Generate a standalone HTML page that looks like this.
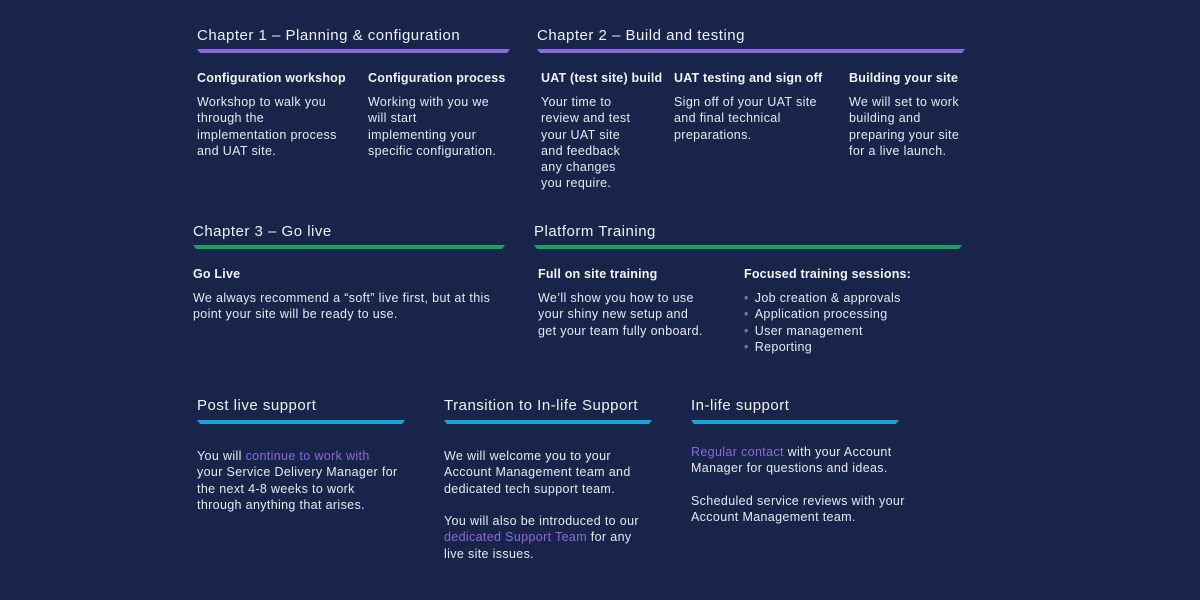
<!DOCTYPE html>
<html><head><meta charset="utf-8"><style>
body{margin:0;width:1200px;height:600px;background:#18244a;overflow:hidden;font-family:"Liberation Sans",sans-serif;color:#e6e8ef;position:relative}
.a{position:absolute;white-space:nowrap}
.h{font-size:15px;color:#eef0f5;letter-spacing:0.5px;top:0}
.s{font-size:12.5px;font-weight:bold;color:#f2f3f7;letter-spacing:0.2px}
.t{font-size:12.5px;line-height:16.3px;letter-spacing:0.35px}
.p{color:#8a6bd6}
.bar{position:absolute;height:4px;clip-path:polygon(0 0,100% 0,calc(100% - 3px) 100%,3px 100%)}
.pu{background:#8a6ad6}.gr{background:#16a65e}.cy{background:#1aa4d4}
.b{color:#8a6ad6;margin-right:6px}
</style></head><body>
<div class="a h" style="left:197px;top:27px">Chapter 1 – Planning &amp; configuration</div>
<div class="bar pu" style="left:197px;top:49px;width:313px"></div>
<div class="a h" style="left:537px;top:27px">Chapter 2 – Build and testing</div>
<div class="bar pu" style="left:537px;top:49px;width:428px"></div>

<div class="a s" style="left:197px;top:71px">Configuration workshop</div>
<div class="a t" style="left:197px;top:94px">Workshop to walk you<br>through the<br>implementation process<br>and UAT site.</div>
<div class="a s" style="left:368px;top:71px">Configuration process</div>
<div class="a t" style="left:368px;top:94px">Working with you we<br>will start<br>implementing your<br>specific configuration.</div>
<div class="a s" style="left:541px;top:71px">UAT (test site) build</div>
<div class="a t" style="left:541px;top:94px">Your time to<br>review and test<br>your UAT site<br>and feedback<br>any changes<br>you require.</div>
<div class="a s" style="left:674px;top:71px">UAT testing and sign off</div>
<div class="a t" style="left:674px;top:94px">Sign off of your UAT site<br>and final technical<br>preparations.</div>
<div class="a s" style="left:849px;top:71px">Building your site</div>
<div class="a t" style="left:849px;top:94px">We will set to work<br>building and<br>preparing your site<br>for a live launch.</div>

<div class="a h" style="left:193px;top:223px">Chapter 3 – Go live</div>
<div class="bar gr" style="left:193px;top:245px;width:312px"></div>
<div class="a h" style="left:534px;top:223px">Platform Training</div>
<div class="bar gr" style="left:534px;top:245px;width:428px"></div>
<div class="a s" style="left:193px;top:267px">Go Live</div>
<div class="a t" style="left:193px;top:290px">We always recommend a “soft” live first, but at this<br>point your site will be ready to use.</div>
<div class="a s" style="left:538px;top:267px">Full on site training</div>
<div class="a t" style="left:538px;top:290px">We’ll show you how to use<br>your shiny new setup and<br>get your team fully onboard.</div>
<div class="a s" style="left:744px;top:267px">Focused training sessions:</div>
<div class="a t" style="left:744px;top:290px"><span class="b">•</span>Job creation &amp; approvals<br><span class="b">•</span>Application processing<br><span class="b">•</span>User management<br><span class="b">•</span>Reporting</div>

<div class="a h" style="left:197px;top:397px">Post live support</div>
<div class="bar cy" style="left:197px;top:420px;width:208px"></div>
<div class="a h" style="left:444px;top:397px">Transition to In-life Support</div>
<div class="bar cy" style="left:444px;top:420px;width:208px"></div>
<div class="a h" style="left:691px;top:397px">In-life support</div>
<div class="bar cy" style="left:691px;top:420px;width:208px"></div>

<div class="a t" style="left:197px;top:448px">You will <span class="p">continue to work with</span><br>your Service Delivery Manager for<br>the next 4-8 weeks to work<br>through anything that arises.</div>
<div class="a t" style="left:444px;top:448px">We will welcome you to your<br>Account Management team and<br>dedicated tech support team.<br><br>You will also be introduced to our<br><span class="p">dedicated Support Team</span> for any<br>live site issues.</div>
<div class="a t" style="left:691px;top:444px"><span class="p">Regular contact</span> with your Account<br>Manager for questions and ideas.<br><br>Scheduled service reviews with your<br>Account Management team.</div>
</body></html>
